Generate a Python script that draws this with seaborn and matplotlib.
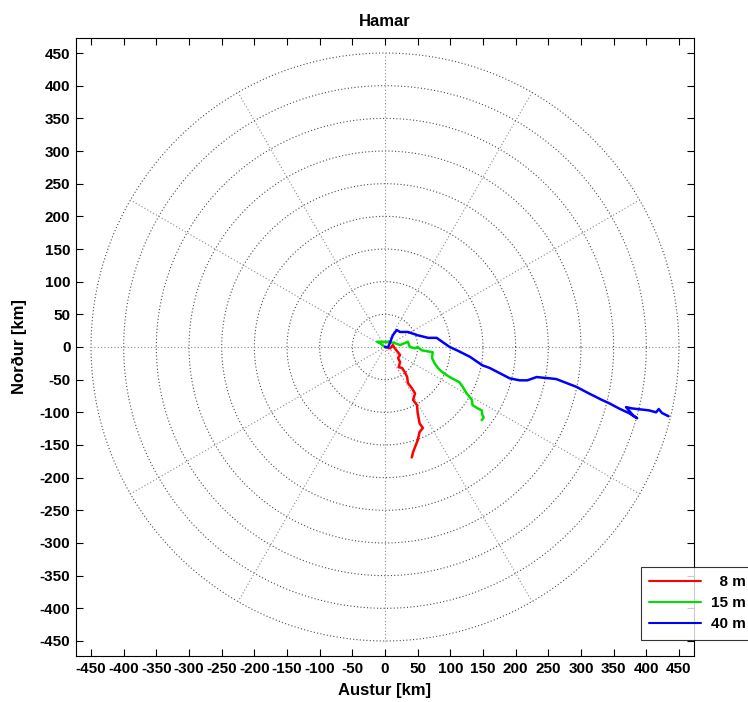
import numpy as np
import pandas as pd
import matplotlib
matplotlib.use("Agg")
import matplotlib.pyplot as plt
import seaborn as sns

# Drift tracks (east / north displacement in km) for three depths
east_8m = [0, 8, 12, 15, 23, 20, 23, 21, 26, 30, 34, 35, 41, 46, 43, 49, 50,
           53, 58, 53, 50, 46, 43, 41]
north_8m = [0, -2, 3, -2, -12, -17, -23, -31, -32, -38, -46, -55, -63, -71,
            -81, -89, -101, -117, -124, -130, -143, -153, -161, -169]

east_15m = [0, -8, -12, -5, 5, 15, 23, 35, 38, 46, 50, 56, 73, 72, 76, 81,
            87, 99, 114, 119, 125, 133, 134, 142, 148, 149, 151, 148]
north_15m = [0, 6, 8, 8, 8, 6, 3, 8, 0, -2, 0, -5, -8, -17, -25, -32, -38,
             -46, -54, -61, -71, -81, -89, -94, -97, -104, -108, -112]

east_40m = [0, 5, 12, 18, 23, 35, 50, 66, 79, 99, 110, 130, 149, 160, 191,
            206, 218, 232, 252, 262, 293, 312, 332, 343, 358, 373, 386, 380,
            369, 378, 404, 415, 419, 424, 434]
north_40m = [0, 0, 18, 26, 23, 23, 18, 14, 14, 0, -5, -15, -28, -32, -48,
             -51, -51, -46, -48, -49, -61, -71, -81, -86, -94, -101, -109,
             -105, -92, -94, -97, -100, -95, -101, -106]

depth_labels = ["8 m", "15 m", "40 m"]
line_colors = ["#ff0000", "#00dd00", "#0000ff"]

grid_radii = [50, 100, 150, 200, 250, 300, 350, 400, 450]
spoke_angles = [0, 30, 60, 90, 120, 150, 180, 210, 240, 270, 300, 330]
tick_values = list(range(-450, 451, 50))

frames = []
for lbl, e, n in zip(depth_labels, [east_8m, east_15m, east_40m],
                     [north_8m, north_15m, north_40m]):
    frames.append(pd.DataFrame({"east": e, "north": n, "depth": lbl}))
tracks = pd.concat(frames, ignore_index=True)

sns.set_style("white")
plt.rcParams["font.family"] = ["Liberation Sans", "DejaVu Sans"]
plt.rcParams["font.weight"] = "bold"
plt.rcParams["axes.unicode_minus"] = False
for key in ["text.color", "axes.labelcolor", "xtick.color", "ytick.color"]:
    plt.rcParams[key] = "black"

fig = plt.figure(figsize=(7.48, 7.02), dpi=100)
ax = fig.add_axes([76 / 748, 46 / 702, 618 / 748, 618 / 702])

# polar-style grid: range circles and bearing spokes
theta = np.linspace(0, 2 * np.pi, 721)
for r in grid_radii:
    ax.plot(r * np.cos(theta), r * np.sin(theta), linestyle=(0, (1, 2)),
            color="0.3", lw=0.8, zorder=1)
rmax = grid_radii[-1]
for a in spoke_angles:
    t = np.deg2rad(a)
    ax.plot([0, rmax * np.cos(t)], [0, rmax * np.sin(t)],
            linestyle=(0, (1, 2)), color="0.55", lw=0.8, zorder=1)

sns.lineplot(data=tracks, x="east", y="north", hue="depth",
             estimator=None, sort=False, hue_order=depth_labels,
             palette=line_colors, lw=1.8, ax=ax, legend=False, zorder=3)

lim = 473
ax.set_xlim(-lim, lim)
ax.set_ylim(-lim, lim)
ax.set_aspect("equal")
ax.set_xticks(tick_values)
ax.set_yticks(tick_values)
ax.set_xticklabels([str(v) for v in tick_values], fontsize=11, fontweight="bold")
ax.set_yticklabels([str(v) for v in tick_values], fontsize=11, fontweight="bold")
ax.tick_params(direction="in", length=5, width=0.8, top=True, right=True,
               bottom=True, left=True, pad=4, colors="black")
for s in ax.spines.values():
    s.set_visible(True)
    s.set_color("black")
    s.set_linewidth(0.8)

ax.set_title("Hamar", fontsize=12, fontweight="bold", pad=9, color="black")
ax.set_xlabel("Austur [km]", fontsize=12, fontweight="bold", labelpad=5,
              color="black")
ax.set_ylabel("Norður [km]", fontsize=12, fontweight="bold", labelpad=9,
              color="black")

handles = [plt.Line2D([], [], color=c, lw=1.5) for c in line_colors]
leg = fig.legend(handles, ["  8 m", "15 m", "40 m"], loc="upper left",
                 bbox_to_anchor=(641 / 748, (702 - 567) / 702),
                 frameon=True, fancybox=False, edgecolor="black",
                 prop={"size": 11, "weight": "bold"}, handlelength=3.4,
                 handletextpad=0.6, labelspacing=0.45, borderpad=0.55,
                 borderaxespad=0)
leg.get_frame().set_linewidth(0.8)
for t in leg.get_texts():
    t.set_color("black")

fig.savefig("out.png", dpi=100)
